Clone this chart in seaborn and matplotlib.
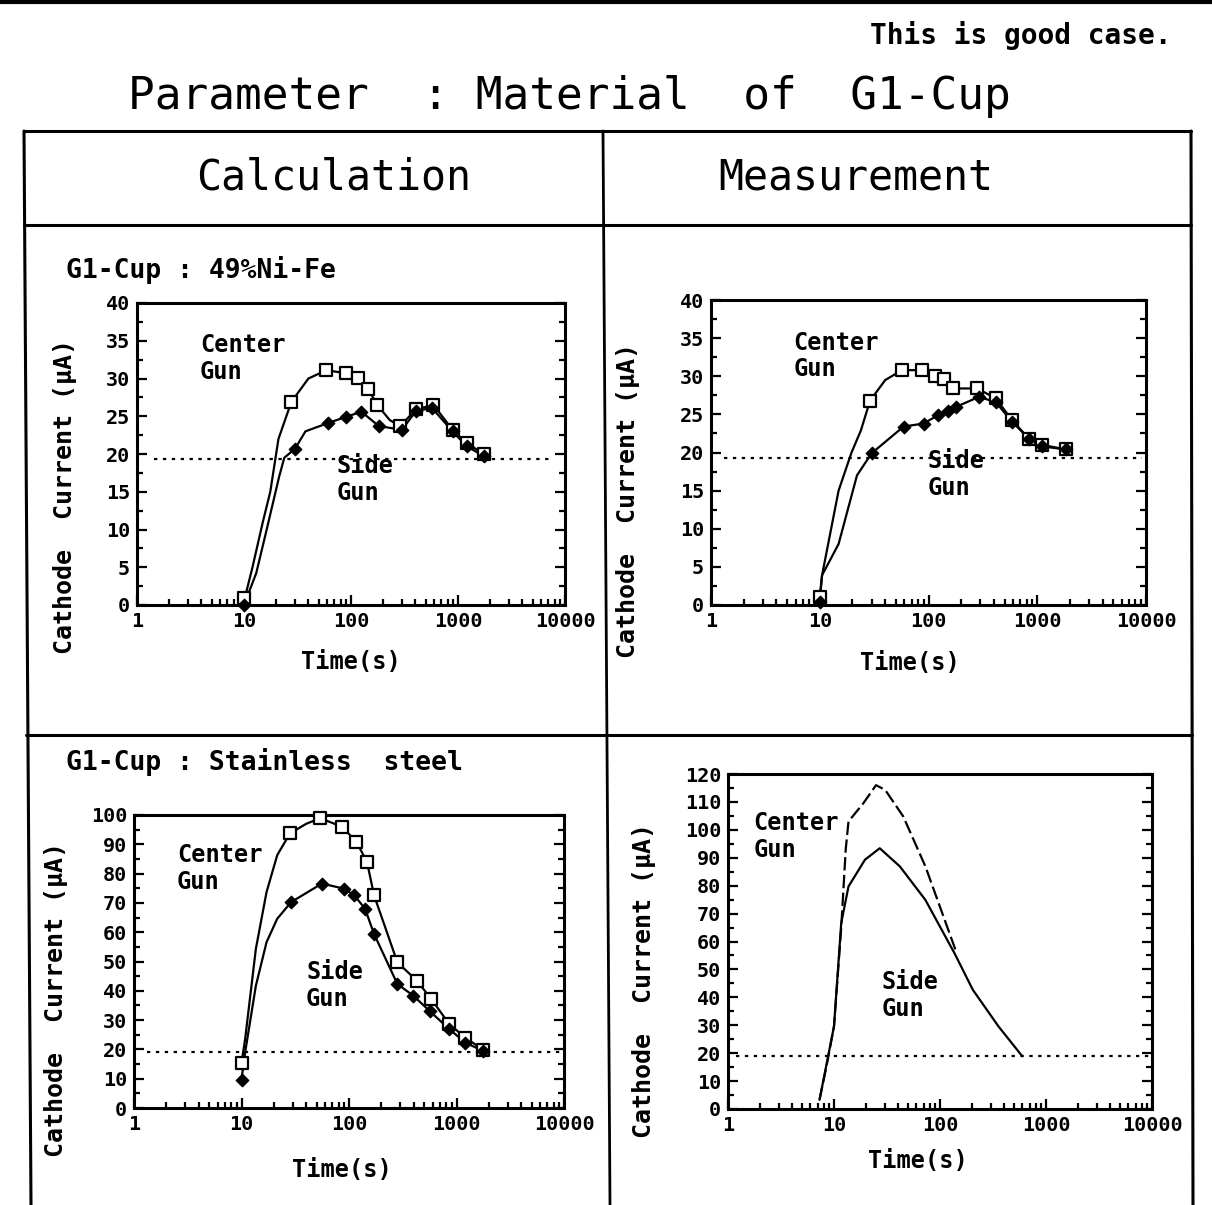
import matplotlib
matplotlib.use("Agg")
import matplotlib.pyplot as plt
import matplotlib.ticker as mticker
from matplotlib.lines import Line2D
import seaborn as sns
import pandas as pd

# ---------------- data ----------------
# Panel A: Calculation, G1-Cup 49%Ni-Fe
a_center_line_t = [10, 12, 15, 17.6, 21, 27.7, 40, 59, 89, 116, 145, 176, 230, 288, 405, 590, 890, 1210, 1760]
a_center_line_i = [0.5, 5, 11, 15, 22, 26.9, 30, 31.1, 30.7, 30.1, 28.6, 26.5, 24.5, 23.7, 25.9, 26.5, 23.2, 21.4, 20.0]
a_center_mk_t = [10, 27.7, 59, 89, 116, 145, 176, 288, 405, 590, 890, 1210, 1760]
a_center_mk_i = [0.9, 26.9, 31.1, 30.7, 30.1, 28.6, 26.5, 23.7, 25.9, 26.5, 23.2, 21.4, 20.0]
a_side_line_t = [10, 13, 16.3, 21.3, 23.8, 30, 37.5, 61, 89, 125, 182, 299, 405, 570, 890, 1210, 1760]
a_side_line_i = [0, 4.2, 10, 17, 19.5, 20.7, 23, 24.1, 24.9, 25.6, 23.7, 23.2, 25.7, 26.1, 23, 21, 19.7]
a_side_mk_t = [10, 30, 61, 89, 125, 182, 299, 405, 570, 890, 1210, 1760]
a_side_mk_i = [0, 20.7, 24.1, 24.9, 25.6, 23.7, 23.2, 25.7, 26.1, 23, 21, 19.7]

# Panel B: Measurement, G1-Cup 49%Ni-Fe
b_center_line_t = [10, 10.5, 14.9, 19.6, 23.9, 29, 40, 57, 87, 114, 138, 169, 280, 415, 590, 840, 1107, 1840]
b_center_line_i = [1.1, 3.9, 15, 20, 22.9, 26.8, 29.5, 30.8, 30.8, 30, 29.6, 28.4, 28.4, 27.1, 24.2, 21.8, 21, 20.4]
b_center_mk_t = [10, 29, 57, 87, 114, 138, 169, 280, 415, 590, 840, 1107, 1840]
b_center_mk_i = [1.1, 26.8, 30.8, 30.8, 30, 29.6, 28.4, 28.4, 27.1, 24.2, 21.8, 21, 20.4]
b_side_line_t = [10, 10.5, 14.9, 22, 30, 59, 90, 123, 150, 180, 292, 415, 590, 840, 1107, 1840]
b_side_line_i = [0.4, 3.9, 8, 17, 19.9, 23.4, 23.8, 24.9, 25.5, 26, 27.3, 26.6, 24, 21.8, 20.8, 20.4]
b_side_mk_t = [10, 30, 59, 90, 123, 150, 180, 292, 415, 590, 840, 1107, 1840]
b_side_mk_i = [0.4, 19.9, 23.4, 23.8, 24.9, 25.5, 26, 27.3, 26.6, 24, 21.8, 20.8, 20.4]

# Panel C: Calculation, G1-Cup Stainless steel
c_center_line_t = [10, 10.8, 13.6, 17.1, 21.5, 28.2, 40, 54, 86, 117, 147, 171, 282, 430, 584, 858, 1210, 1778]
c_center_line_i = [15.4, 23.4, 54.3, 73.7, 86.3, 93.7, 97, 98.9, 96, 90.9, 84, 72.6, 49.7, 43.4, 37.1, 28.6, 24, 19.8]
c_center_mk_t = [10, 28.2, 54, 86, 117, 147, 171, 282, 430, 584, 858, 1210, 1778]
c_center_mk_i = [15.4, 93.7, 98.9, 96, 90.9, 84, 72.6, 49.7, 43.4, 37.1, 28.6, 24, 19.8]
c_side_line_t = [10, 10.8, 13.6, 17.1, 21.5, 29, 56, 89, 112, 141, 171, 282, 398, 562, 858, 1210, 1778]
c_side_line_i = [9.7, 18.9, 41.7, 56.6, 64.6, 70.3, 76.6, 74.9, 72.6, 68, 59.4, 42.3, 38.3, 33.1, 26.9, 22.3, 19.4]
c_side_mk_t = [10, 29, 56, 89, 112, 141, 171, 282, 398, 562, 858, 1210, 1778]
c_side_mk_i = [9.7, 70.3, 76.6, 74.9, 72.6, 68, 59.4, 42.3, 38.3, 33.1, 26.9, 22.3, 19.4]

# Panel D: Measurement, G1-Cup Stainless steel (no markers)
d_center_line_t = [7.3, 8.5, 10, 11.7, 12.9, 13.7, 18.9, 24.9, 30.4, 45, 72.8, 140]
d_center_line_i = [3.3, 15.3, 29.6, 65, 93, 103, 109.5, 116, 114.3, 104.8, 86.9, 57]
d_side_line_t = [7.3, 10, 11.7, 13.7, 19.6, 27, 41.8, 72.8, 137, 204, 356, 597]
d_side_line_i = [3.3, 29.6, 66.6, 79.7, 89.3, 93.4, 86.9, 74.9, 55.8, 42.7, 29.6, 18.9]

threshold_i = [19.3, 19.3, 19.0, 19.0]
x_ticks = [1, 10, 100, 1000, 10000]
x_tick_labels = ["1", "10", "100", "1000", "10000"]

# ---------------- style ----------------
sns.set_style("ticks")
plt.rcParams['font.family'] = ['DejaVu Sans Mono', 'DejaVu Sans']
plt.rcParams['axes.linewidth'] = 2.2
for key in ['text.color', 'axes.labelcolor', 'xtick.color', 'ytick.color', 'axes.edgecolor']:
    plt.rcParams[key] = 'black'

W, H = 1212, 1205
fig = plt.figure(figsize=(W / 100, H / 100), dpi=100)

bg = fig.add_axes([0, 0, 1, 1])
bg.set_xlim(0, W)
bg.set_ylim(H, 0)
bg.axis('off')

# frame / table lines
frame_lines = [
    ((0, 1212), (2, 2), 3.0),
    ((24, 1191), (131, 131), 2.2),
    ((24, 1191), (225, 225), 2.2),
    ((26, 1192), (735, 735), 2.2),
    ((24, 31), (131, 1205), 2.2),
    ((1191, 1193), (131, 1205), 2.2),
    ((603, 610), (131, 1205), 2.0),
]
for xs, ys, lw in frame_lines:
    bg.add_line(Line2D(xs, ys, color='black', lw=lw))

bg.text(1171, 35, "This is good case.", ha='right', va='center', fontsize=20, fontweight='bold')
bg.text(128, 97, "Parameter  : Material  of  G1-Cup", ha='left', va='center', fontsize=32)
bg.text(334, 177, "Calculation", ha='center', va='center', fontsize=30)
bg.text(856, 177, "Measurement", ha='center', va='center', fontsize=30)
bg.text(66, 270, "G1-Cup : 49%Ni-Fe", ha='left', va='center', fontsize=19, fontweight='bold')
bg.text(66, 762, "G1-Cup : Stainless  steel", ha='left', va='center', fontsize=19, fontweight='bold')


def make_ax(l, t, r, b):
    return fig.add_axes([l / W, 1 - b / H, (r - l) / W, (b - t) / H])


def style_ax(ax, ymax, ymajor, yminor, ylab_xy, xlab_xy):
    ax.set_xscale('log')
    ax.set_xlim(1, 10000)
    ax.set_ylim(0, ymax)
    ax.xaxis.set_major_locator(mticker.FixedLocator(x_ticks))
    ax.xaxis.set_major_formatter(mticker.FixedFormatter(x_tick_labels))
    ax.xaxis.set_minor_locator(mticker.LogLocator(base=10, subs=range(2, 10), numticks=20))
    ax.xaxis.set_minor_formatter(mticker.NullFormatter())
    ax.yaxis.set_major_locator(mticker.MultipleLocator(ymajor))
    ax.yaxis.set_minor_locator(mticker.MultipleLocator(yminor))
    ax.tick_params(which='both', direction='in', right=True, top=False, width=1.6,
                   labelsize=14.5, colors='black')
    ax.tick_params(which='major', length=7, pad=5)
    ax.tick_params(which='minor', length=4)
    for lab in ax.get_xticklabels() + ax.get_yticklabels():
        lab.set_fontweight('bold')
    ax.set_ylabel("Cathode  Current (μA)", fontsize=18, fontweight='bold', color='black')
    ax.set_xlabel("Time(s)", fontsize=17, fontweight='bold', color='black')
    ax.yaxis.set_label_coords(*ylab_xy)
    ax.xaxis.set_label_coords(*xlab_xy)
    for s in ax.spines.values():
        s.set_visible(True)
        s.set_linewidth(2.2)
        s.set_color('black')


def draw_lines(ax, t, i, ls='-'):
    df = pd.DataFrame({"t": t, "i": i})
    sns.lineplot(data=df, x="t", y="i", ax=ax, color='black', lw=1.6,
                 linestyle=ls, estimator=None, sort=False)


def draw_markers(ax, t, i, kind):
    df = pd.DataFrame({"t": t, "i": i})
    if kind == 'square':
        sns.scatterplot(data=df, x="t", y="i", ax=ax, marker='s', s=70, color='white',
                        edgecolor='black', linewidth=1.6, zorder=4, clip_on=False)
    else:
        sns.scatterplot(data=df, x="t", y="i", ax=ax, marker='D', s=40, color='black',
                        edgecolor='black', linewidth=1.0, zorder=5, clip_on=False)


def labels(ax, cxy, sxy):
    ax.text(*cxy, "Center\nGun", transform=ax.transAxes, ha='left', va='top',
            fontsize=17, fontweight='bold', linespacing=1.15, color='black')
    ax.text(*sxy, "Side\nGun", transform=ax.transAxes, ha='left', va='top',
            fontsize=17, fontweight='bold', linespacing=1.15, color='black')


dot = (0, (1.5, 2.5))

# Panel A
axA = make_ax(137, 303, 565, 605)
draw_lines(axA, a_center_line_t, a_center_line_i)
draw_lines(axA, a_side_line_t, a_side_line_i)
draw_markers(axA, a_center_mk_t, a_center_mk_i, 'square')
draw_markers(axA, a_side_mk_t, a_side_mk_i, 'diamond')
axA.axhline(threshold_i[0], xmin=0.04, xmax=0.97, color='black', lw=1.6, linestyle=dot)
style_ax(axA, 40, 5, 2.5, (-0.14, 0.36), (0.5, -0.15))
labels(axA, (0.147, 0.90), (0.467, 0.50))

# Panel B
axB = make_ax(711, 300, 1146, 605)
draw_lines(axB, b_center_line_t, b_center_line_i)
draw_lines(axB, b_side_line_t, b_side_line_i)
draw_markers(axB, b_center_mk_t, b_center_mk_i, 'square')
draw_markers(axB, b_side_mk_t, b_side_mk_i, 'diamond')
axB.axhline(threshold_i[1], xmin=0.03, xmax=0.99, color='black', lw=1.6, linestyle=dot)
style_ax(axB, 40, 5, 2.5, (-0.163, 0.344), (0.457, -0.15))
labels(axB, (0.19, 0.90), (0.497, 0.51))

# Panel C
axC = make_ax(134, 815, 564, 1108)
draw_lines(axC, c_center_line_t, c_center_line_i)
draw_lines(axC, c_side_line_t, c_side_line_i)
draw_markers(axC, c_center_mk_t, c_center_mk_i, 'square')
draw_markers(axC, c_side_mk_t, c_side_mk_i, 'diamond')
axC.axhline(threshold_i[2], xmin=0.03, xmax=1.0, color='black', lw=1.6, linestyle=dot)
style_ax(axC, 100, 10, 5, (-0.153, 0.37), (0.484, -0.17))
labels(axC, (0.10, 0.905), (0.40, 0.505))

# Panel D
axD = make_ax(728, 774, 1152, 1109)
draw_lines(axD, d_center_line_t, d_center_line_i, ls=(0, (6, 2)))
draw_lines(axD, d_side_line_t, d_side_line_i)
axD.axhline(threshold_i[3], xmin=0.02, xmax=1.0, color='black', lw=1.6, linestyle=dot)
style_ax(axD, 120, 10, 5, (-0.17, 0.385), (0.448, -0.12))
labels(axD, (0.06, 0.89), (0.363, 0.415))

fig.savefig("out.png", dpi=100)
